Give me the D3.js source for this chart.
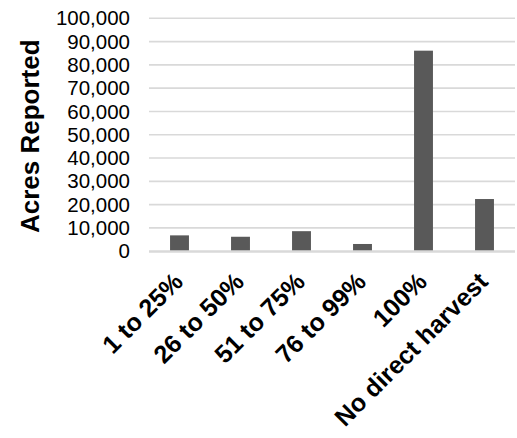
<!DOCTYPE html>
<html>
<head>
<meta charset="utf-8">
<script src="https://cdn.jsdelivr.net/npm/d3@7"></script>
<style>
  html, body { margin: 0; padding: 0; background: #fff; }
  svg { display: block; }
  text { font-family: "Liberation Sans", Arial, sans-serif; }
</style>
</head>
<body>
<svg id="chart" width="517" height="438"></svg>
<script>
// Acres reported by share of harvest
const categories = ["1 to 25%", "26 to 50%", "51 to 75%", "76 to 99%", "100%", "No direct harvest"];
const acres = [6800, 6200, 8600, 3100, 86100, 22400];
const yTicks = [0, 10000, 20000, 30000, 40000, 50000, 60000, 70000, 80000, 90000, 100000];

const svg = d3.select("#chart");
const margin = { left: 149, right: 2, top: 18.3, bottom: 186.8 };
const width = 517, height = 438;

const x = d3.scaleBand()
  .domain(categories)
  .range([margin.left, width - margin.right])
  .paddingInner(0.69)
  .paddingOuter(0.345);

const y = d3.scaleLinear()
  .domain([0, 100000])
  .range([height - margin.bottom, margin.top]);

// Horizontal gridlines
svg.append("g")
  .selectAll("line")
  .data(yTicks.filter(d => d > 0))
  .join("line")
  .attr("x1", margin.left)
  .attr("x2", width - margin.right)
  .attr("y1", d => y(d))
  .attr("y2", d => y(d))
  .attr("stroke", "#d9d9d9")
  .attr("stroke-width", 1.6);

// Bars
svg.append("g")
  .selectAll("rect")
  .data(categories.map((c, i) => ({ c, v: acres[i] })))
  .join("rect")
  .attr("x", d => x(d.c))
  .attr("width", x.bandwidth())
  .attr("y", d => y(d.v))
  .attr("height", d => y(0) - y(d.v))
  .attr("fill", "#595959");

// Baseline
svg.append("line")
  .attr("x1", margin.left)
  .attr("x2", width - margin.right)
  .attr("y1", y(0) + 0.3)
  .attr("y2", y(0) + 0.3)
  .attr("stroke", "#d9d9d9")
  .attr("stroke-width", 2.4);

// Y axis labels
const yAxis = d3.axisLeft(y)
  .tickValues(yTicks)
  .tickFormat(d3.format(","))
  .tickSize(0)
  .tickPadding(0);

const gy = svg.append("g")
  .attr("transform", `translate(130,0)`)
  .call(yAxis);
gy.select(".domain").remove();
gy.selectAll("text")
  .attr("font-size", 20.5)
  .attr("fill", "#000")
  .attr("font-family", "'Liberation Sans', Arial, sans-serif");

// X axis labels, rotated
const xAxis = d3.axisBottom(x).tickSize(0).tickPadding(0);
const gx = svg.append("g")
  .attr("transform", `translate(0,${y(0)})`)
  .call(xAxis);
gx.select(".domain").remove();
gx.selectAll("text")
  .attr("font-size", 25)
  .attr("font-weight", "bold")
  .attr("fill", "#000")
  .attr("font-family", "'Liberation Sans', Arial, sans-serif")
  .attr("text-anchor", "end")
  .attr("dy", null)
  .attr("y", 0)
  .attr("transform", "translate(5,32) rotate(-45)");

// Y axis title
svg.append("text")
  .attr("transform", `translate(39,${(y(0) + y(100000)) / 2 + 1.5}) rotate(-90)`)
  .attr("text-anchor", "middle")
  .attr("font-size", 26)
  .attr("font-weight", "bold")
  .attr("fill", "#000")
  .text("Acres Reported");
</script>
</body>
</html>
